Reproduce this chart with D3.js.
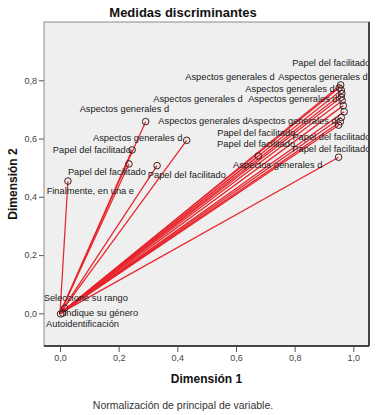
<!DOCTYPE html>
<html>
<head>
<meta charset="utf-8">
<script src="https://cdn.jsdelivr.net/npm/d3@7"></script>
<style>
  body { margin: 0; background: #fff; }
  text { font-family: "Liberation Sans", Arial, sans-serif; }
</style>
</head>
<body>
<div id="chart"></div>
<script>
// discrimination measures
const varNames = [
  "Seleccione su rango", "Indique su género", "Autoidentificación",
  "Finalmente, en una e", "Papel del facilitado", "Papel del facilitado",
  "Papel del facilitado", "Aspectos generales d", "Aspectos generales d",
  "Papel del facilitado", "Aspectos generales d", "Aspectos generales d",
  "Aspectos generales d", "Aspectos generales d", "Aspectos generales d",
  "Aspectos generales d", "Aspectos generales d", "Papel del facilitado",
  "Papel del facilitado", "Papel del facilitado", "Papel del facilitado",
  "Aspectos generales d"
];
const dim1 = [
  0.016, 0.009, 0.002,
  0.027, 0.331, 0.235,
  0.246, 0.432, 0.292,
  0.957, 0.952, 0.959,
  0.961, 0.959, 0.962,
  0.966, 0.969, 0.959,
  0.956, 0.950, 0.950,
  0.676
];
const dim2 = [
  0.018, 0.001, -0.002,
  0.454, 0.507, 0.513,
  0.561, 0.594, 0.658,
  0.784, 0.774, 0.766,
  0.754, 0.742, 0.730,
  0.713, 0.692, 0.672,
  0.658, 0.646, 0.536,
  0.540
];
const xTicks = [0, 0.2, 0.4, 0.6, 0.8, 1.0];
const yTicks = [0, 0.2, 0.4, 0.6, 0.8];

// where SPSS put each label relative to its point (px, text start / baseline)
const labelOffsets = [
  [-21, -7], [1, 2.5], [-14.5, 13.5],
  [-21.3, 12.5], [-9.3, 12.3], [-61, 11.5],
  [-79.3, 3], [-93.7, 0.7], [-66, -9.7],
  [-48.5, -18.5], [-154, -8], [-63, -10.5],
  [-96.5, -2], [-188, 4.5], [-94, 1],
  [-185, 18], [-97, 12], [-124, 18.5],
  [-48, 18], [-121.5, 21.5], [-46.3, -5],
  [-25.3, 12]
];

class DiscriminationPlot {
  constructor(_config, _data) {
    this.config = {
      parentElement: _config.parentElement,
      containerWidth: _config.containerWidth || 376,
      containerHeight: _config.containerHeight || 415,
      margin: _config.margin || { top: 22, right: 7, bottom: 69, left: 44 }
    };
    this.data = _data;
    this.initVis();
    this.renderVis();
  }

  initVis() {
    let vis = this;

    vis.width = vis.config.containerWidth - vis.config.margin.left - vis.config.margin.right;
    vis.height = vis.config.containerHeight - vis.config.margin.top - vis.config.margin.bottom;

    vis.svg = d3.select(vis.config.parentElement)
      .append('svg')
      .attr('width', vis.config.containerWidth)
      .attr('height', vis.config.containerHeight);

    vis.svg.append('clipPath')
      .attr('id', 'plot-clip')
      .append('rect')
      .attr('width', vis.width)
      .attr('height', vis.height);

    vis.chartG = vis.svg.append('g')
      .attr('transform', `translate(${vis.config.margin.left}, ${vis.config.margin.top})`);

    vis.xScale = d3.scaleLinear()
      .domain([-0.0546, 1.0536])
      .range([0, vis.width]);

    vis.yScale = d3.scaleLinear()
      .domain([-0.112, 1.0])
      .range([vis.height, 0]);

    const comma = d => d3.format('.1f')(d).replace('.', ',');

    // plot background
    vis.chartG.append('rect')
      .attr('width', vis.width)
      .attr('height', vis.height)
      .attr('fill', '#efefef');

    vis.xAxis = d3.axisBottom(vis.xScale)
      .tickValues(xTicks).tickFormat(comma).tickSize(5).tickPadding(3);
    vis.yAxis = d3.axisLeft(vis.yScale)
      .tickValues(yTicks).tickFormat(comma).tickSize(5).tickPadding(2);

    vis.xAxisG = vis.chartG.append('g')
      .attr('class', 'axis x-axis')
      .attr('transform', `translate(0, ${vis.height + 1})`)
      .call(vis.xAxis);
    vis.yAxisG = vis.chartG.append('g')
      .attr('class', 'axis y-axis')
      .call(vis.yAxis);

    vis.svg.selectAll('.axis .domain').remove();
    vis.svg.selectAll('.axis line').attr('stroke', '#555');
    vis.svg.selectAll('.axis text')
      .attr('fill', '#444')
      .style('font-size', '9px');

    // titles
    vis.svg.append('text')
      .attr('x', 183).attr('y', 17)
      .attr('text-anchor', 'middle')
      .style('font-size', '13px').style('font-weight', 'bold')
      .attr('fill', '#111')
      .text('Medidas discriminantes');

    vis.svg.append('text')
      .attr('x', vis.config.margin.left + vis.width / 2).attr('y', 383)
      .attr('text-anchor', 'middle')
      .style('font-size', '12px').style('font-weight', 'bold')
      .attr('fill', '#111')
      .text('Dimensión 1');

    vis.svg.append('text')
      .attr('transform', `translate(16.5, ${vis.config.margin.top + vis.height / 2}) rotate(-90)`)
      .attr('text-anchor', 'middle')
      .style('font-size', '12px').style('font-weight', 'bold')
      .attr('fill', '#111')
      .text('Dimensión 2');

    vis.svg.append('text')
      .attr('x', 183).attr('y', 409)
      .attr('text-anchor', 'middle')
      .style('font-size', '10.5px')
      .attr('fill', '#333')
      .text('Normalización de principal de variable.');

    vis.marksG = vis.chartG.append('g')
      .attr('clip-path', 'url(#plot-clip)');

    // frame drawn on top of marks
    vis.frameG = vis.chartG.append('g');
    vis.frameG.append('rect')
      .attr('width', vis.width)
      .attr('height', vis.height)
      .attr('fill', 'none')
      .attr('stroke', '#8a8a8a')
      .attr('stroke-width', 1);
    vis.frameG.append('line')
      .attr('x1', vis.width).attr('x2', vis.width)
      .attr('y1', 0).attr('y2', vis.height)
      .attr('stroke', '#444').attr('stroke-width', 2);
    vis.frameG.append('line')
      .attr('x1', 0).attr('x2', vis.width)
      .attr('y1', vis.height).attr('y2', vis.height)
      .attr('stroke', '#444').attr('stroke-width', 2);
  }

  renderVis() {
    let vis = this;

    // vectors from the origin
    vis.marksG.selectAll('.vec')
      .data(vis.data)
      .join('line')
      .attr('class', 'vec')
      .attr('x1', vis.xScale(0))
      .attr('y1', vis.yScale(0))
      .attr('x2', d => vis.xScale(d.d1))
      .attr('y2', d => vis.yScale(d.d2))
      .attr('stroke', '#e8242c')
      .attr('stroke-width', 1.25);

    vis.marksG.selectAll('.pt')
      .data(vis.data)
      .join('circle')
      .attr('class', 'pt')
      .attr('cx', d => vis.xScale(d.d1))
      .attr('cy', d => vis.yScale(d.d2))
      .attr('r', 3.3)
      .attr('fill', 'none')
      .attr('stroke', '#3a2020')
      .attr('stroke-width', 1);

    vis.marksG.selectAll('.lbl')
      .data(vis.data)
      .join('text')
      .attr('class', 'lbl')
      .attr('x', d => vis.xScale(d.d1) + d.off[0])
      .attr('y', d => vis.yScale(d.d2) + d.off[1])
      .style('font-size', '9.3px')
      .attr('fill', '#1a1a1a')
      .text(d => d.name);

    return vis.svg.node();
  }
}

const rows = varNames.map((n, i) => ({ name: n, d1: dim1[i], d2: dim2[i], off: labelOffsets[i] }));
new DiscriminationPlot({ parentElement: '#chart' }, rows);
</script>
</body>
</html>
